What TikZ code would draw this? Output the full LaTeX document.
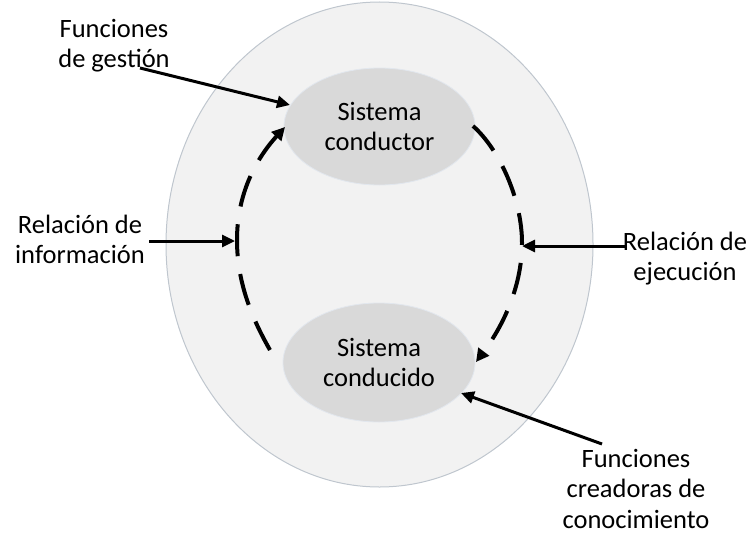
\documentclass[tikz,border=0pt]{standalone}
\usepackage{fontspec}
\setmainfont{Carlito}
\usetikzlibrary{arrows.meta,shapes.geometric}
\definecolor{outerfill}{HTML}{F2F2F2}
\definecolor{outerline}{HTML}{BFC6CE}
\definecolor{innerfill}{HTML}{D9D9D9}
\definecolor{innerline}{HTML}{E2E7EE}
\tikzset{
  lbl/.style={align=center, inner sep=0pt, anchor=north, font=\fontsize{26.5}{30.5}\selectfont},
  sysbox/.style={ellipse, fill=innerfill, draw=innerline, line width=0.8pt, inner sep=0pt, align=center, font=\fontsize{26.5}{30.5}\selectfont},
  solidarrow/.style={line width=3pt, -{Triangle[length=13pt,width=12pt]}},
  dasharrow/.style={line width=4pt, dash pattern=on 32pt off 18pt, -{Triangle[length=13pt,width=13pt]}}
}
\begin{document}
\begin{tikzpicture}[x=1pt,y=-1pt]
\useasboundingbox (0,0) rectangle (751,535);
% outer ellipse
\node[ellipse, fill=outerfill, draw=outerline, line width=1pt, minimum width=427pt, minimum height=485pt, inner sep=0pt] (outer) at (379.5,244.5) {};
% inner ellipses
\node[sysbox, minimum width=191pt, minimum height=117pt] (cond) at (379.5,126.5) {Sistema\\conductor};
\node[sysbox, minimum width=192pt, minimum height=119pt] (condu) at (379,362.5) {Sistema\\conducido};
% labels
\node[lbl] (fg) at (114,17) {\rule{0pt}{20pt}Funciones\\de gestión};
\node[lbl] (ri) at (80,213) {\rule{0pt}{20pt}Relación de\\información};
\node[lbl] (re) at (685,230) {\rule{0pt}{20pt}Relación de\\ejecución};
\node[lbl] (fc) at (636,447) {\rule{0pt}{20pt}Funciones\\creadoras de\\conocimiento};
% connector points
\coordinate (fgs) at (140,68);
\coordinate (fge) at (290,105);
\coordinate (ris) at (149,241);
\coordinate (rie) at (235,241);
\coordinate (res) at (625,246);
\coordinate (ree) at (522,246);
\coordinate (fcs) at (602,444);
\coordinate (fce) at (461,393);
\coordinate (ls) at (270,350);
\coordinate (lm) at (237,240);
\coordinate (le) at (285,127);
\coordinate (rs) at (473,126);
\coordinate (rm) at (522,243);
\coordinate (rend) at (476,362);
% dashed arcs
\draw[dasharrow] (ls) .. controls (250,315) and (237,280) .. (lm) .. controls (237,195) and (255,160) .. (le);
\draw[dasharrow] (rs) .. controls (500,150) and (522,200) .. (rm) .. controls (522,290) and (500,330) .. (rend);
% solid arrows
\draw[solidarrow] (fgs) -- (fge);
\draw[solidarrow] (ris) -- (rie);
\draw[solidarrow] (res) -- (ree);
\draw[solidarrow] (fcs) -- (fce);
\end{tikzpicture}
\end{document}
